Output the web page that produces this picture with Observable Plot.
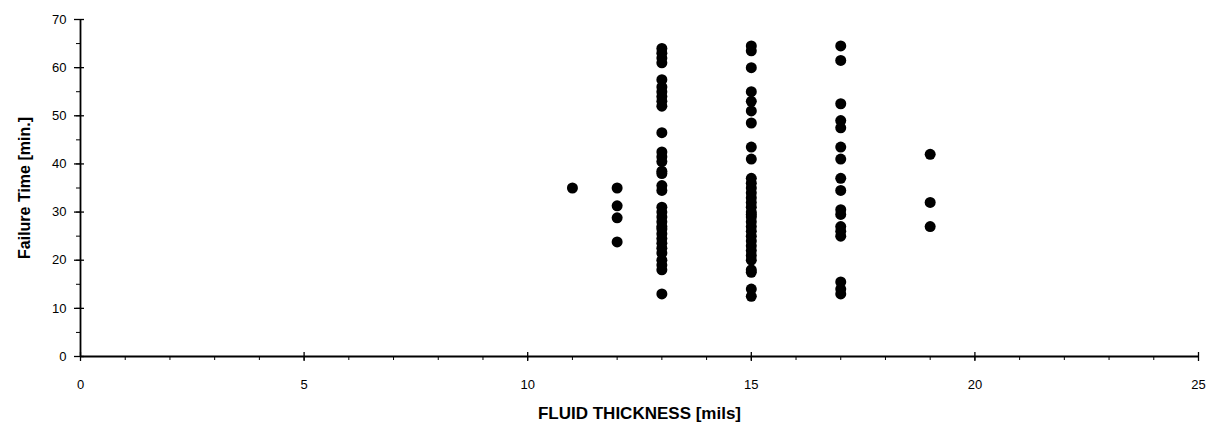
<!DOCTYPE html>
<html>
<head>
<meta charset="utf-8">
<script src="https://cdn.jsdelivr.net/npm/d3@7"></script>
<script src="https://cdn.jsdelivr.net/npm/@observablehq/plot@0.6"></script>
<style>
  html, body { margin: 0; padding: 0; background: #fff; }
  #chart svg { display: block; }
</style>
</head>
<body>
<div id="chart"></div>
<script>
// Failure time (minutes) observed at each fluid thickness (mils)
const thickness = [11, 12, 13, 15, 17, 19];
const time11 = [35];
const time12 = [35, 31.3, 28.8, 23.8];
const time13 = [64, 63, 62, 61, 57.5, 56, 55, 54, 53, 52, 46.5, 42.5, 41.5, 40.5, 38.5, 38,
                35.5, 34.5, 31, 30, 29, 28, 27, 26.5, 25.5, 24.5, 23.5, 22.5, 21.5, 20, 19, 18, 13];
const time15 = [64.5, 63.5, 60, 55, 53, 51, 48.5, 43.5, 41, 37, 36, 35, 34, 33, 32, 31, 30,
                29.5, 29, 28, 27, 26, 25, 24, 23, 22, 21, 20, 18, 17.5, 14, 12.5];
const time17 = [64.5, 61.5, 52.5, 49, 47.5, 43.5, 41, 37, 34.5, 30.5, 29.5, 27, 26, 25, 15.5, 14, 13];
const time19 = [42, 32, 27];

const xMajor = [0, 5, 10, 15, 20, 25];
const xMinor = d3.range(0, 26, 1);
const yMajor = [0, 10, 20, 30, 40, 50, 60, 70];
const yMinor = d3.range(0, 71, 5);

const series = [time11, time12, time13, time15, time17, time19];
const points = thickness.flatMap((t, i) => series[i].map(v => ({thickness: t, time: v})));

const chart = Plot.plot({
  width: 1208,
  height: 434,
  marginLeft: 80,
  marginRight: 10,
  marginTop: 19,
  marginBottom: 78,
  style: {fontFamily: "'Liberation Sans', Arial, sans-serif", fontSize: "13px", color: "#000", background: "#fff"},
  x: {domain: [0, 25]},
  y: {domain: [0, 70]},
  marks: [
    // minor ticks
    Plot.axisX({ticks: xMinor, tickSize: 4, text: null, label: null, stroke: "#000"}),
    Plot.axisY({ticks: yMinor, tickSize: 4, text: null, label: null, stroke: "#000"}),
    // major ticks crossing the axis lines
    Plot.axisX({ticks: xMajor, tickSize: 9, dy: -4, text: null, label: null, stroke: "#000", strokeWidth: 1.3}),
    Plot.axisY({ticks: yMajor, tickSize: 10, dx: 4, text: null, label: null, stroke: "#000", strokeWidth: 1.3}),
    // tick labels and titles
    Plot.axisX({ticks: xMajor, tickSize: 0, tickPadding: 23, tickFormat: d => d, fill: "#000",
      label: "FLUID THICKNESS [mils]", labelAnchor: "center", labelArrow: "none", labelOffset: 62,
      fontSize: 13}),
    Plot.axisY({ticks: yMajor, tickSize: 0, tickPadding: 14, tickFormat: d => d, fill: "#000",
      label: "Failure Time [min.]", labelAnchor: "center", labelArrow: "none", labelOffset: 62,
      fontSize: 13}),
    Plot.ruleY([0], {stroke: "#000", strokeWidth: 1.8}),
    Plot.ruleX([0], {stroke: "#000", strokeWidth: 1.8}),
    Plot.dot(points, {x: "thickness", y: "time", r: 5.5, fill: "#000", stroke: "none"})
  ]
});

// bold axis titles
chart.querySelectorAll("g[aria-label='x-axis label'] text").forEach(t => {
  t.setAttribute("font-weight", "bold");
  t.setAttribute("font-size", "17px");
});
chart.querySelectorAll("g[aria-label='y-axis label'] text").forEach(t => {
  t.setAttribute("font-weight", "bold");
  t.setAttribute("font-size", "16px");
});
document.getElementById("chart").append(chart);
</script>
</body>
</html>
